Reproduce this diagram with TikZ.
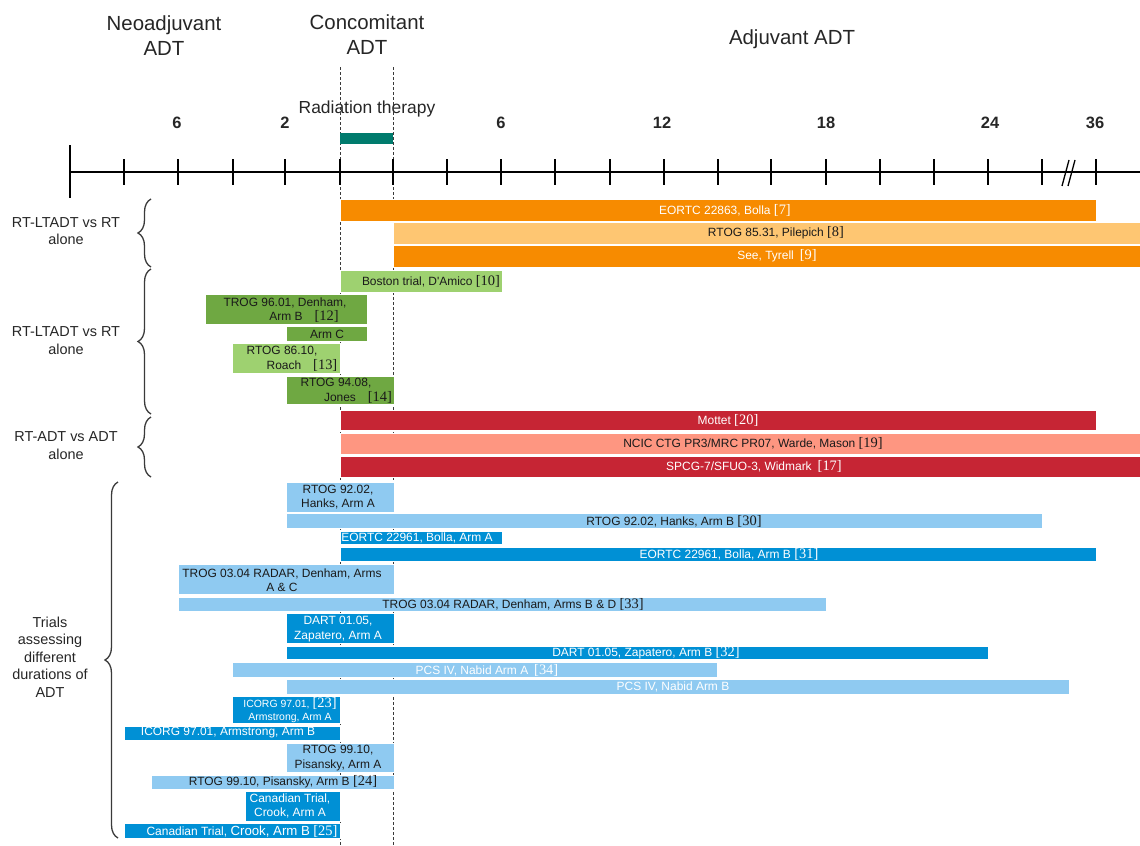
\documentclass[tikz,border=0pt]{standalone}
\usepackage{fontspec}
\setmainfont{Liberation Sans}
\newfontfamily\refserif{Liberation Serif}
\usetikzlibrary{decorations.pathreplacing}
\definecolor{cOrange}{HTML}{F78B00}
\definecolor{cLOrange}{HTML}{FEC672}
\definecolor{cDGreen}{HTML}{6FA842}
\definecolor{cLGreen}{HTML}{9ED170}
\definecolor{cRed}{HTML}{C62534}
\definecolor{cSalmon}{HTML}{FE9681}
\definecolor{cBlue}{HTML}{0090D5}
\definecolor{cLBlue}{HTML}{8FCAF1}
\definecolor{cTeal}{HTML}{007B6D}
\definecolor{txtdark}{HTML}{1A1A1A}
\definecolor{headcol}{HTML}{262626}
\definecolor{bracecol}{HTML}{3A3A3A}
\newcommand{\cit}[1]{{\refserif\fontsize{14.5}{14.5}\selectfont[#1]}}
\begin{document}
\begin{tikzpicture}[x=1bp,y=-1bp,
  bar/.style={draw=white, line width=1bp},
  lbl/.style={inner sep=0pt, font=\fontsize{12}{14.5}\selectfont, align=center},
  wt/.style={lbl, text=white},
  dk/.style={lbl, text=txtdark},
  head/.style={inner sep=0pt, font=\fontsize{20.5}{25}\selectfont, align=center, text=headcol},
  grp/.style={inner sep=0pt, font=\fontsize{14.5}{17.6}\selectfont, align=center, text=headcol},
  num/.style={inner sep=0pt, font=\fontsize{16.5}{18}\selectfont\bfseries, text=headcol},
  axisline/.style={line width=2.2bp, black},
  tick/.style={line width=2bp, black},
  rtline/.style={line width=1bp, bracecol, dash pattern=on 3bp off 2bp},
  curly/.style={decorate, decoration={brace, amplitude=13bp}, line width=1.3bp, bracecol}
]
\useasboundingbox (0,0) rectangle (1140,846);

% headers
\node[head] (neo) at (164,35.5) {Neoadjuvant\\ADT};
\node[head] (conc) at (367,34.5) {Concomitant\\ADT};
\node[head] (adj) at (792,39) {Adjuvant ADT};
\node[inner sep=0pt, font=\fontsize{17.5}{20}\selectfont, text=headcol] (rtlabel) at (367,109) {Radiation therapy};

% radiation dashed lines
\coordinate (rtAtop) at (340,67);
\coordinate (rtAbot) at (340,846);
\coordinate (rtBtop) at (393,67);
\coordinate (rtBbot) at (393,846);
\draw[rtline] (rtAtop) -- (rtAbot);
\draw[rtline] (rtBtop) -- (rtBbot);

% radiation bar
\node[fill=cTeal, inner sep=0pt, minimum width=53bp, minimum height=11bp, anchor=north west] (rtbar) at (340,133) {};

% axis numbers
\node[num] (n6a) at (177,123) {6};
\node[num] (n2) at (285,123) {2};
\node[num] (n6b) at (501,123) {6};
\node[num] (n12) at (662,123) {12};
\node[num] (n18) at (826,123) {18};
\node[num] (n24) at (990,123) {24};
\node[num] (n36) at (1095,123) {36};

% axis
\coordinate (axstart) at (70,172);
\coordinate (axend) at (1140,172);
\draw[axisline] (axstart) -- (axend);
\draw[line width=2.2bp] (70,145) -- (70,198);
\foreach \tx in {124,178,233,285,340,393,447,501,555,610,664,718,771,826,880,934,988,1042,1096}{
  \draw[tick] (\tx,159) -- (\tx,185);
}
\draw[line width=1.3bp] (1062,186) -- (1069,160);
\draw[line width=1.3bp] (1068,186) -- (1075,160);

% group labels and braces
\node[grp] (g1) at (66,231) {RT-LTADT vs RT\\alone};
\node[grp] (g2) at (66,340.5) {RT-LTADT vs RT\\alone};
\node[grp] (g3) at (66,445.5) {RT-ADT vs ADT\\alone};
\node[grp] (g4) at (50,657) {Trials\\assessing\\different\\durations of\\ADT};
\coordinate (b1a) at (151,267); \coordinate (b1b) at (151,199);
\coordinate (b2a) at (151,414); \coordinate (b2b) at (151,269);
\coordinate (b3a) at (151,477); \coordinate (b3b) at (151,417);
\coordinate (b4a) at (118,838); \coordinate (b4b) at (118,482);
\draw[curly] (b1a) -- (b1b);
\draw[curly] (b2a) -- (b2b);
\draw[curly] (b3a) -- (b3b);
\draw[curly] (b4a) -- (b4b);

% orange group
\path[bar,fill=cOrange] (340,199) rectangle (1096,221);
\node[wt] (t1) at (725,210) {EORTC 22863, Bolla \cit{7}};
\path[bar,fill=cLOrange] (393,222) rectangle (1140,244);
\node[dk] (t2) at (776,233) {RTOG 85.31, Pilepich \cit{8}};
\path[bar,fill=cOrange] (393,245) rectangle (1140,267);
\node[wt] (t3) at (777,256) {See, Tyrell\enspace\cit{9}};

% green group
\path[bar,fill=cLGreen] (340,270) rectangle (502,292);
\node[dk] (t4) at (431,281) {Boston trial, D\textquotesingle Amico \cit{10}};
\path[bar,fill=cDGreen] (205,294) rectangle (367,324);
\node[dk] (t5) at (285,310) {TROG 96.01, Denham,\\\hspace*{38bp}Arm B\quad\cit{12}};
\path[bar,fill=cDGreen] (286,326) rectangle (367,341);
\node[dk] (t6) at (327,334) {Arm C};
\path[bar,fill=cLGreen] (232,343) rectangle (340,373);
\node[dk] (t7) at (282,359) {RTOG 86.10,\\\hspace*{40bp}Roach\quad\cit{13}};
\path[bar,fill=cDGreen] (286,376) rectangle (394,404);
\node[dk] (t8) at (336,391) {RTOG 94.08,\\\hspace*{44bp}Jones\quad\cit{14}};

% red group
\path[bar,fill=cRed] (340,410) rectangle (1096,430);
\node[wt] (t9) at (728,420) {Mottet \cit{20}};
\path[bar,fill=cSalmon] (340,433) rectangle (1140,454);
\node[dk] (t10) at (753,443) {NCIC CTG PR3/MRC PR07, Warde, Mason \cit{19}};
\path[bar,fill=cRed] (340,456) rectangle (1140,477);
\node[wt] (t11) at (754,466) {SPCG-7/SFUO-3, Widmark\enspace\cit{17}};

% blue group
\path[bar,fill=cLBlue] (286,482) rectangle (394,512);
\node[dk] (t12) at (338,497) {RTOG 92.02,\\Hanks, Arm A};
\path[bar,fill=cLBlue] (286,513) rectangle (1042,528);
\node[dk] (t13) at (674,521) {RTOG 92.02, Hanks, Arm B \cit{30}};
\path[bar,fill=cBlue] (340,531) rectangle (502,544);
\node[wt] (t14) at (417,538) {EORTC 22961, Bolla, Arm A};
\path[bar,fill=cBlue] (340,547) rectangle (1096,561);
\node[wt] (t15) at (729,554) {EORTC 22961, Bolla, Arm B \cit{31}};
\path[bar,fill=cLBlue] (178,564) rectangle (394,594);
\node[dk] (t16) at (282,580) {TROG 03.04 RADAR, Denham, Arms\\A \& C};
\path[bar,fill=cLBlue] (178,597) rectangle (826,611);
\node[dk] (t17) at (513,604) {TROG 03.04 RADAR, Denham, Arms B \& D \cit{33}};
\path[bar,fill=cBlue] (286,613) rectangle (394,643);
\node[wt] (t18) at (338,629) {DART 01.05,\\Zapatero, Arm A};
\path[bar,fill=cBlue] (286,646) rectangle (988,659);
\node[wt] (t19) at (646,653) {DART 01.05, Zapatero, Arm B \cit{32}};
\path[bar,fill=cLBlue] (232,662) rectangle (717,677);
\node[wt] (t20) at (487,670) {PCS IV, Nabid Arm A\enspace\cit{34}};
\path[bar,fill=cLBlue] (286,679) rectangle (1069,694);
\node[wt] (t21) at (673,687) {PCS IV, Nabid Arm B};
\path[bar,fill=cBlue] (232,696) rectangle (340,723);
\node[wt, font=\fontsize{10.5}{13}\selectfont] (t22) at (290,710) {ICORG 97.01, \cit{23}\\Armstrong, Arm A};
\path[bar,fill=cBlue] (124,726) rectangle (340,740);
\node[wt] (t23) at (228,733) {ICORG 97.01, Armstrong, Arm B};
\path[bar,fill=cLBlue] (286,743) rectangle (394,772);
\node[dk] (t24) at (338,758) {RTOG 99.10,\\Pisansky, Arm A};
\path[bar,fill=cLBlue] (151,775) rectangle (394,789);
\node[dk] (t25) at (283,782) {RTOG 99.10, Pisansky, Arm B \cit{24}};
\path[bar,fill=cBlue] (245,791) rectangle (340,821);
\node[wt] (t26) at (290,806) {Canadian Trial,\\Crook, Arm A};
\path[bar,fill=cBlue] (124,823) rectangle (340,838);
\node[wt] (t27) at (242,831) {Canadian Trial, {\fontsize{13.3}{14}\selectfont Crook, Arm B} \cit{25}};
\end{tikzpicture}
\end{document}
